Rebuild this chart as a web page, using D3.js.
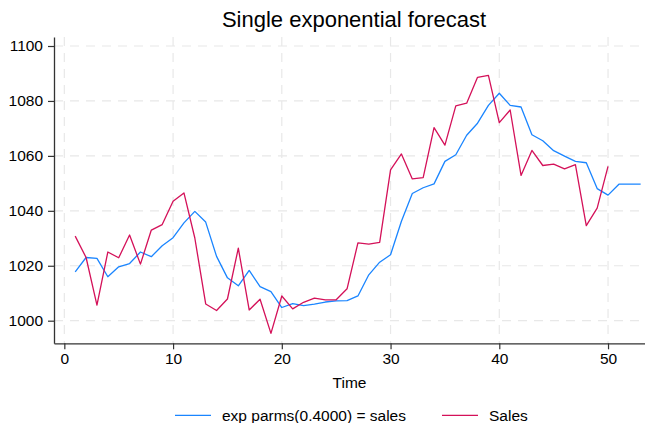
<!DOCTYPE html>
<html>
<head>
<meta charset="utf-8">
<script src="https://cdn.jsdelivr.net/npm/d3@7"></script>
<style>
  body { margin: 0; background: #fff; }
  text { font-family: "Liberation Sans", Arial, sans-serif; fill: #000; }
</style>
</head>
<body>
<svg width="645" height="423"></svg>
<script>
/*------------------------
  ------ VARIABLES -------
  ------------------------*/

// input
var sales = [1030.8, 1023.0, 1005.7, 1025.0, 1022.9, 1031.2, 1020.6, 1033.0, 1035.0, 1043.5,
             1046.5, 1030.1, 1006.1, 1003.7, 1007.9, 1026.4, 1003.9, 1007.8, 995.4, 1009.0,
             1004.3, 1006.7, 1008.2, 1007.6, 1007.6, 1011.6, 1028.3, 1027.9, 1028.5, 1054.9,
             1060.7, 1051.6, 1052.1, 1070.3, 1063.9, 1078.2, 1079.2, 1088.6, 1089.3, 1072.1,
             1076.7, 1052.9, 1062.0, 1056.5, 1057.0, 1055.3, 1056.8, 1034.6, 1041.0, 1056.2];
var forecast = [1017.8, 1023.0, 1022.7, 1016.0, 1019.6, 1020.8, 1025.0, 1023.3, 1027.3, 1030.2,
                1035.6, 1039.8, 1035.9, 1023.4, 1015.6, 1012.7, 1018.3, 1012.4, 1010.6, 1004.8,
                1006.2, 1005.5, 1006.0, 1006.8, 1007.2, 1007.3, 1009.0, 1016.7, 1021.3, 1024.0,
                1036.2, 1046.3, 1048.4, 1049.8, 1058.0, 1060.4, 1067.5, 1071.9, 1078.4, 1082.8,
                1078.4, 1077.8, 1067.7, 1065.5, 1061.9, 1059.9, 1058.0, 1057.5, 1048.1, 1045.7,
                1049.7, 1049.7, 1049.7];
var x_ticks = [0, 10, 20, 30, 40, 50];
var y_ticks = [1000, 1020, 1040, 1060, 1080, 1100];
var title_txt = "Single exponential forecast";
var x_title = "Time";
var legend_labels = ["exp parms(0.4000) = sales", "Sales"];

// display
var plot = {left: 54, right: 645, top: 37, bot: 343.3};
var col = {blue: "#1a85ff", red: "#d41159", grid: "#e8e8e8", axis: "#333333"};
var fs = {title: 22, tick: 15.5, label: 15.5};

var svg = d3.select("svg");

var x = d3.scaleLinear().domain([-0.95, 53.4]).range([plot.left, plot.right]);
var y = d3.scaleLinear().domain([991.77, 1103.28]).range([plot.bot, plot.top]);


/*---------------------
  ------- GRID --------
  ---------------------*/

function display_grid() {
    var g = svg.append("g").attr("class", "grid-layer");

    g.selectAll(".hgrid")
        .data(y_ticks)
        .enter()
        .append("line")
        .attr("x1", plot.left)
        .attr("x2", 643)
        .attr("y1", y)
        .attr("y2", y)
        .attr("stroke", col.grid)
        .attr("stroke-width", 1.2)
        .attr("stroke-dasharray", "9,7");

    g.selectAll(".vgrid")
        .data(x_ticks)
        .enter()
        .append("line")
        .attr("x1", x)
        .attr("x2", x)
        .attr("y1", plot.top)
        .attr("y2", plot.bot)
        .attr("stroke", col.grid)
        .attr("stroke-width", 1.2)
        .attr("stroke-dasharray", "9,7");
}

/*---------------------
  ------- AXES --------
  ---------------------*/

function style_axis(a) {
    a.select(".domain").attr("stroke", col.axis).attr("stroke-width", 1.3);
    a.selectAll(".tick line").attr("stroke", col.axis).attr("stroke-width", 1.2);
    a.selectAll(".tick text")
        .attr("font-size", fs.tick)
        .attr("font-family", "Liberation Sans, Arial, sans-serif")
        .attr("fill", "#000");
}

function display_axes() {
    var ax = svg.append("g")
        .attr("transform", "translate(0," + plot.bot + ")")
        .call(d3.axisBottom(x).tickValues(x_ticks).tickFormat(d3.format("d"))
              .tickSize(6).tickPadding(4).tickSizeOuter(0));
    style_axis(ax);

    var ay = svg.append("g")
        .attr("transform", "translate(" + plot.left + ",0)")
        .call(d3.axisLeft(y).tickValues(y_ticks).tickFormat(d3.format("d"))
              .tickSize(6).tickPadding(5).tickSizeOuter(0));
    style_axis(ay);

    svg.append("text")
        .attr("x", (plot.left + plot.right) / 2)
        .attr("y", 387.5)
        .attr("text-anchor", "middle")
        .attr("font-size", fs.label)
        .text(x_title);

    svg.append("text")
        .attr("x", 354)
        .attr("y", 27)
        .attr("text-anchor", "middle")
        .attr("font-size", fs.title)
        .text(title_txt);
}

/*---------------------
  ------- LINES -------
  ---------------------*/

function display_lines() {
    var line = d3.line()
        .x(function(d, i) { return x(i + 1); })
        .y(function(d) { return y(d); });

    svg.append("path")
        .datum(forecast)
        .attr("d", line)
        .attr("fill", "none")
        .attr("stroke", col.blue)
        .attr("stroke-width", 1.3)
        .attr("stroke-linejoin", "round");

    svg.append("path")
        .datum(sales)
        .attr("d", line)
        .attr("fill", "none")
        .attr("stroke", col.red)
        .attr("stroke-width", 1.3)
        .attr("stroke-linejoin", "round");
}

function display_legend() {
    var items = [{label: legend_labels[0], color: col.blue, x0: 175},
                 {label: legend_labels[1], color: col.red, x0: 442}];
    var g = svg.selectAll(".legend")
        .data(items)
        .enter()
        .append("g")
        .attr("class", "legend");
    g.append("line")
        .attr("x1", function(d) { return d.x0; })
        .attr("x2", function(d) { return d.x0 + 36; })
        .attr("y1", 415.3)
        .attr("y2", 415.3)
        .attr("stroke", function(d) { return d.color; })
        .attr("stroke-width", 1.3);
    g.append("text")
        .attr("x", function(d) { return d.x0 + 47; })
        .attr("y", 421)
        .attr("font-size", fs.label)
        .text(function(d) { return d.label; });
}

/*------------------
  ------ RUN -------
  ------------------*/

display_grid();
display_lines();
display_axes();
display_legend();
</script>
</body>
</html>
